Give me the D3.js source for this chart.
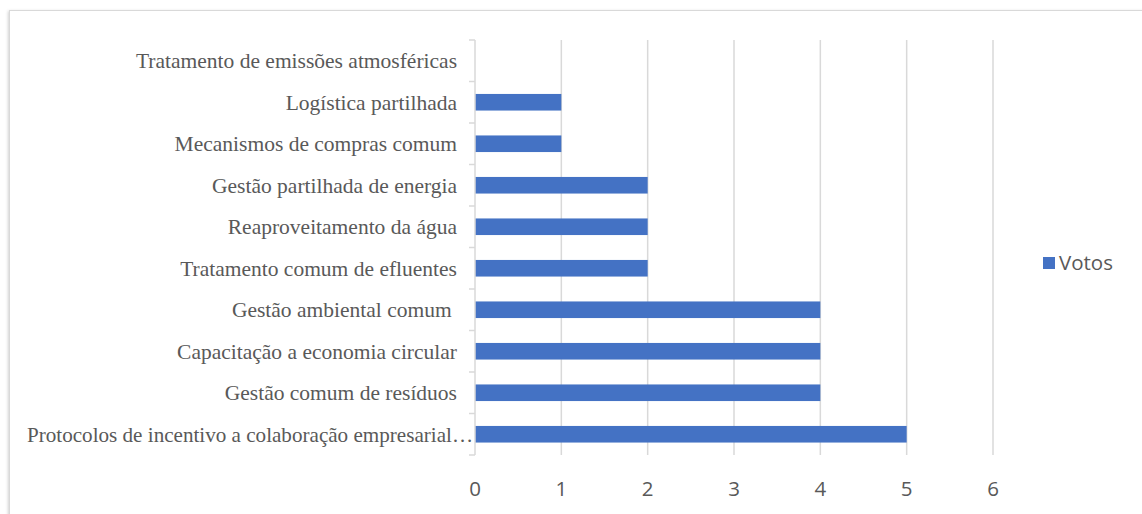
<!DOCTYPE html>
<html>
<head>
<meta charset="utf-8">
<script src="https://cdn.jsdelivr.net/npm/d3@7"></script>
<style>
  body { margin: 0; background: #fff; }
  svg { display: block; }
</style>
</head>
<body>
<div id="chart"></div>
<script>
// categories top to bottom as shown
var categories = [
    "Tratamento de emissões atmosféricas",
    "Logística partilhada",
    "Mecanismos de compras comum",
    "Gestão partilhada de energia",
    "Reaproveitamento da água",
    "Tratamento comum de efluentes",
    "Gestão ambiental comum\u00a0",
    "Capacitação a economia circular",
    "Gestão comum de resíduos",
    "Protocolos de incentivo a colaboração empresarial…"
];
var votos = [0, 1, 1, 2, 2, 2, 4, 4, 4, 5];
var xTicks = [0, 1, 2, 3, 4, 5, 6];
var seriesName = "Votos";

var width = 1142, height = 514;
var margin = {top: 40, left: 475, right: 149, bottom: 59};

var svg = d3.select("#chart").append("svg")
    .attr("width", width)
    .attr("height", height);

// chart frame with soft shadow
var defs = svg.append("defs");
var filt = defs.append("filter").attr("id", "shadow")
    .attr("x", "-5%").attr("y", "-5%").attr("width", "110%").attr("height", "110%");
filt.append("feDropShadow").attr("dx", -1).attr("dy", 1)
    .attr("stdDeviation", 1.5).attr("flood-color", "#000").attr("flood-opacity", 0.18);

svg.append("rect")
    .attr("x", 9.5).attr("y", 10.5)
    .attr("width", 1150).attr("height", 520)
    .attr("fill", "#fff")
    .attr("stroke", "#d9d9d9")
    .attr("filter", "url(#shadow)");

var xScale = d3.scaleLinear()
    .domain([0, 6])
    .range([margin.left, margin.left + 518]);

var yScale = d3.scaleBand()
    .domain(categories)
    .range([margin.top, 455])
    .paddingInner(0.6)
    .paddingOuter(0.3);

var bandStep = yScale.step();

// gridlines
svg.append("g").selectAll("line")
    .data(xTicks.slice(1))
    .enter().append("line")
    .attr("x1", function(d){ return xScale(d); })
    .attr("x2", function(d){ return xScale(d); })
    .attr("y1", margin.top)
    .attr("y2", 455)
    .attr("stroke", "#d9d9d9")
    .attr("stroke-width", 1.5);

// bars
svg.append("g").selectAll("rect")
    .data(votos)
    .enter().append("rect")
    .attr("x", xScale(0))
    .attr("y", function(d, i){ return yScale(categories[i]); })
    .attr("width", function(d){ return xScale(d) - xScale(0); })
    .attr("height", yScale.bandwidth())
    .attr("fill", "#4472c4");

// y axis line with band ticks
var axisG = svg.append("g").attr("stroke", "#d9d9d9").attr("stroke-width", 1.5);
axisG.append("line")
    .attr("x1", xScale(0)).attr("x2", xScale(0))
    .attr("y1", margin.top).attr("y2", 455);
var bounds = d3.range(categories.length + 1).map(function(i){ return margin.top + i * bandStep; });
axisG.selectAll(".tk")
    .data(bounds)
    .enter().append("line")
    .attr("x1", xScale(0) - 6).attr("x2", xScale(0))
    .attr("y1", function(d){ return d; })
    .attr("y2", function(d){ return d; });

// category labels (truncated label runs up to the axis, like Excel does)
var catLabels = svg.append("g").selectAll("text")
    .data(categories)
    .enter().append("text")
    .attr("x", function(d){ return d.slice(-1) == "…" ? xScale(0) - 2 : xScale(0) - 18; })
    .attr("y", function(d){ return yScale(d) + yScale.bandwidth() / 2; })
    .attr("dy", "0.35em")
    .attr("text-anchor", "end")
    .attr("fill", "#595959")
    .style("font-family", "'Liberation Serif', 'Times New Roman', serif")
    .style("font-size", "21.5px")
    .style("white-space", "pre")
    .text(function(d){ return d; });
catLabels.filter(function(d){ return d.slice(-1) == "…"; })
    .attr("textLength", 446)
    .attr("lengthAdjust", "spacingAndGlyphs");

// x tick labels
svg.append("g").selectAll("text")
    .data(xTicks)
    .enter().append("text")
    .attr("x", function(d){ return xScale(d); })
    .attr("y", 496)
    .attr("text-anchor", "middle")
    .attr("fill", "#595959")
    .style("font-family", "'Open Sans', sans-serif")
    .style("font-size", "20.5px")
    .text(function(d){ return d; });

// legend
var legend = svg.append("g").attr("transform", "translate(1043,257)");
legend.append("rect")
    .attr("width", 12).attr("height", 12)
    .attr("fill", "#4472c4");
legend.append("text")
    .attr("x", 16).attr("y", 6)
    .attr("dy", "0.35em")
    .attr("fill", "#595959")
    .style("font-family", "'Open Sans', sans-serif")
    .style("font-size", "20.5px")
    .text(seriesName);
</script>
</body>
</html>
